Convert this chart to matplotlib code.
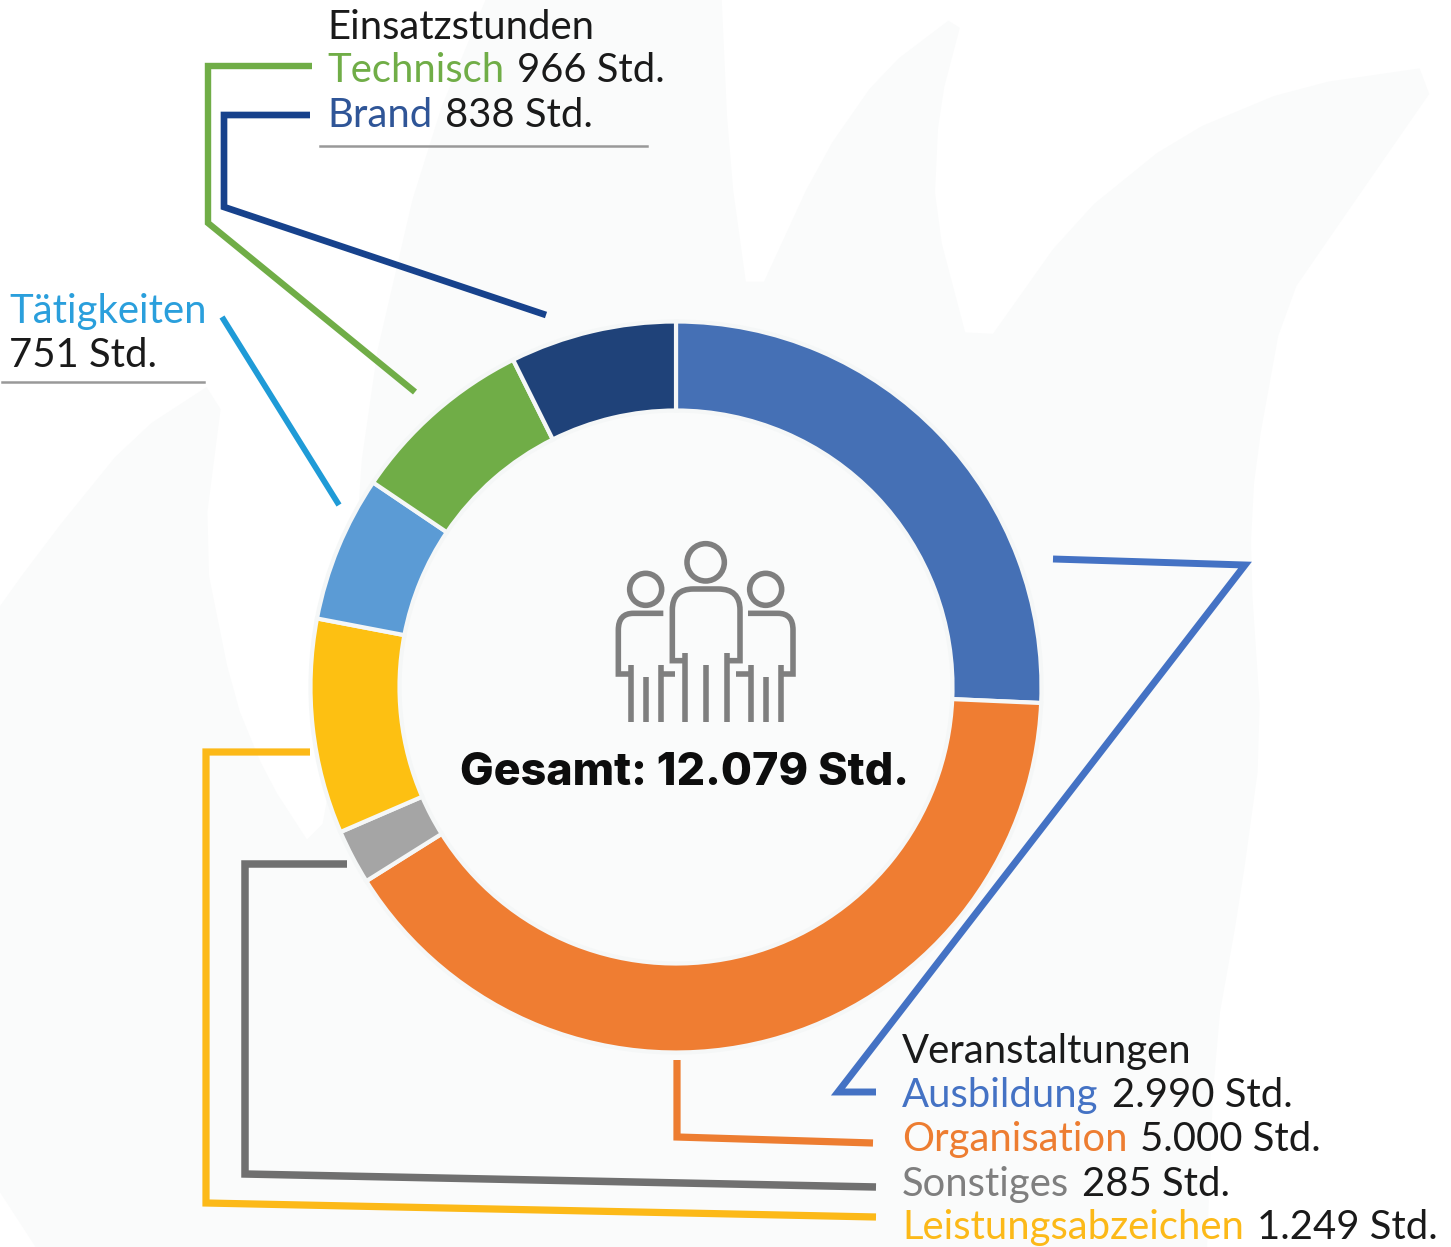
import matplotlib
matplotlib.use('Agg')
import matplotlib.pyplot as plt
from matplotlib.path import Path
from matplotlib.patches import PathPatch, Circle, Polygon

W, H = 1451, 1247

# printed hours
categories = ['Ausbildung', 'Organisation', 'Sonstiges', 'Leistungsabzeichen', 'Tätigkeiten', 'Technisch', 'Brand']
hours_text = ['2.990 Std.', '5.000 Std.', '285 Std.', '1.249 Std.', '751 Std.', '966 Std.', '838 Std.']
# the ring is not quite to scale with the printed hours, so these are read off the ring
ring_values = [3104, 4879, 292, 1147, 779, 990, 888]
ring_colors = ['#4570b5', '#ef7d32', '#a5a5a5', '#fdc012', '#5b9bd5', '#70ad47', '#1f4279']
text_colors = ['#4472c4', '#ed7d31', '#7f7f7f', '#fcb918', '#2a9fdc', '#70ad47', '#2f5597']
line_colors = ['#4472c4', '#ed7d31', '#707070', '#fcb918', '#1f9bd7', '#70ad47', '#17428c']
total_text = 'Gesamt: 12.079 Std.'

TEXT_SIZE = 28.8
BLACK = '#1a1a1a'


def fy(y):
    return H - y


def leader(ax, pts, color, lw=5.0):
    ax.plot([p[0] for p in pts], [fy(p[1]) for p in pts], color=color, lw=lw,
            solid_joinstyle='miter', solid_capstyle='butt', zorder=3)


def two_tone(ax, fig, x, y, first, color, second):
    t = ax.text(x, fy(y), first, color=color, fontsize=TEXT_SIZE, family='Lato', va='baseline', zorder=5)
    bb = t.get_window_extent(fig.canvas.get_renderer())
    # window px -> data px is 1:1 here
    ax.text(bb.x1 + 13, fy(y), second, color=BLACK, fontsize=TEXT_SIZE, family='Lato', va='baseline', zorder=5)


def soften(points):
    # one corner-cutting pass so the watermark has no hard kinks
    out = []
    for i, (x0, y0) in enumerate(points):
        x1, y1 = points[(i + 1) % len(points)]
        out.append((0.8 * x0 + 0.2 * x1, 0.8 * y0 + 0.2 * y1))
        out.append((0.2 * x0 + 0.8 * x1, 0.2 * y0 + 0.8 * y1))
    return out


def flames(ax):
    # faint flame watermark behind the chart, runs past the canvas edge on purpose
    outline = [(-60, 690), (43, 546), (133, 435), (225, 375),
               (203, 546), (233, 695), (267, 778), (317, 855), (345, 700), (366, 400), (424, 150), (510, -60),
               (719, -60), (729, 160), (750, 312), (820, 160), (882, 71), (965, 8), (939, 107), (934, 214),
               (973, 362), (1073, 221), (1178, 136), (1298, 86), (1450, 64), (1346, 214), (1284, 304),
               (1255, 464), (1250, 560), (1262, 740), (1240, 900), (1215, 1040), (1205, 1300), (70, 1300),
               (-60, 1100)]
    ax.add_patch(Polygon([(x, fy(y)) for x, y in soften(outline)], closed=True, fc='#fafbfb', ec='none', zorder=0))


def icon(ax):
    # drawn from the zoomed crop
    gray = '#7f7f7f'
    lw = 4.0

    def px(x, y):
        return 590 + x / 3, fy(530 + y / 3)

    def stroke(verts, codes=None):
        p = Path([px(*v) for v in verts], codes)
        ax.add_patch(PathPatch(p, fc='none', ec=gray, lw=lw, joinstyle='miter', capstyle='butt', zorder=4))

    for hx, hy, r in [(347, 97, 56), (167, 178, 48), (527, 178, 48)]:
        cx, cy = px(hx, hy)
        ax.add_patch(Circle((cx, cy), r / 3, fc='none', ec=gray, lw=lw, zorder=4))

    M, L, Q = Path.MOVETO, Path.LINETO, Path.CURVE3
    stroke([(285, 392), (247, 392), (247, 240), (247, 177), (310, 177), (385, 177),
            (450, 177), (450, 240), (450, 392), (410, 392)], [M, L, L, Q, Q, L, Q, Q, L, L])
    for x, top in [(285, 370), (347, 405), (410, 370)]:
        stroke([(x, top), (x, 575)])
    for mirror in (False, True):
        f = (lambda x: 694 - x) if mirror else (lambda x: x)
        stroke([(f(220), 250), (f(130), 250), (f(85), 250), (f(85), 300), (f(85), 432), (f(122), 432)],
               [M, L, Q, Q, L, L])
        for x, top in [(122, 405), (167, 440), (212, 405)]:
            stroke([(f(x), top), (f(x), 575)])
        stroke([(f(212), 432), (f(255), 432)])


fig = plt.figure(figsize=(W / 100, H / 100), dpi=100)
ax = fig.add_axes([0, 0, 1, 1])
ax.set_xlim(0, W)
ax.set_ylim(0, H)
ax.axis('off')

flames(ax)

ax.pie(ring_values, colors=ring_colors, startangle=90, counterclock=False,
       center=(676, fy(687)), radius=365.5, frame=False,
       wedgeprops=dict(width=89, edgecolor='#f5f7f7', linewidth=3))
ax.set_xlim(0, W)
ax.set_ylim(0, H)
ax.set_aspect('auto')

leader(ax, [(312, 66), (208, 66), (208, 223), (415, 392)], line_colors[5], 4.6)
leader(ax, [(310, 115), (224, 115), (224, 207), (546, 315)], line_colors[6], 4.8)
leader(ax, [(222, 317), (339, 505)], line_colors[4], 4.2)
leader(ax, [(1053, 559), (1245, 565), (838, 1092), (876, 1092)], line_colors[0], 5.0)
leader(ax, [(677, 1060), (677, 1137), (873, 1143)], line_colors[1], 5.2)
leader(ax, [(347, 864), (245, 864), (245, 1174), (876, 1187)], line_colors[2], 5.4)
leader(ax, [(310, 752), (206, 752), (206, 1203), (876, 1217)], line_colors[3], 5.2)

# grey rules under the upper labels
for x0, x1, y in [(320, 647, 146), (2, 204, 382)]:
    ax.plot([x0, x1], [fy(y), fy(y)], color='#999999', lw=1.8, zorder=3)

fig.canvas.draw()
ax.text(327, fy(39), 'Einsatzstunden', color=BLACK, fontsize=TEXT_SIZE, family='Lato', zorder=5)
two_tone(ax, fig, 327, 82, categories[5], text_colors[5], hours_text[5])
two_tone(ax, fig, 327, 127, categories[6], text_colors[6], hours_text[6])
ax.text(9, fy(323), categories[4], color=text_colors[4], fontsize=TEXT_SIZE, family='Lato', zorder=5)
ax.text(9, fy(367), hours_text[4], color=BLACK, fontsize=TEXT_SIZE, family='Lato', zorder=5)
ax.text(902, fy(1063), 'Veranstaltungen', color=BLACK, fontsize=TEXT_SIZE, family='Lato', zorder=5)
two_tone(ax, fig, 902, 1107, categories[0], text_colors[0], hours_text[0])
two_tone(ax, fig, 902, 1151, categories[1], text_colors[1], hours_text[1])
two_tone(ax, fig, 902, 1196, categories[2], text_colors[2], hours_text[2])
two_tone(ax, fig, 902, 1239, categories[3], text_colors[3], hours_text[3])

ax.text(685, fy(785), total_text, color='#0d0d0d', fontsize=32.3, family='Inter', fontweight='heavy',
        ha='center', zorder=5)

icon(ax)

fig.savefig('out.png', dpi=100, facecolor='white')
